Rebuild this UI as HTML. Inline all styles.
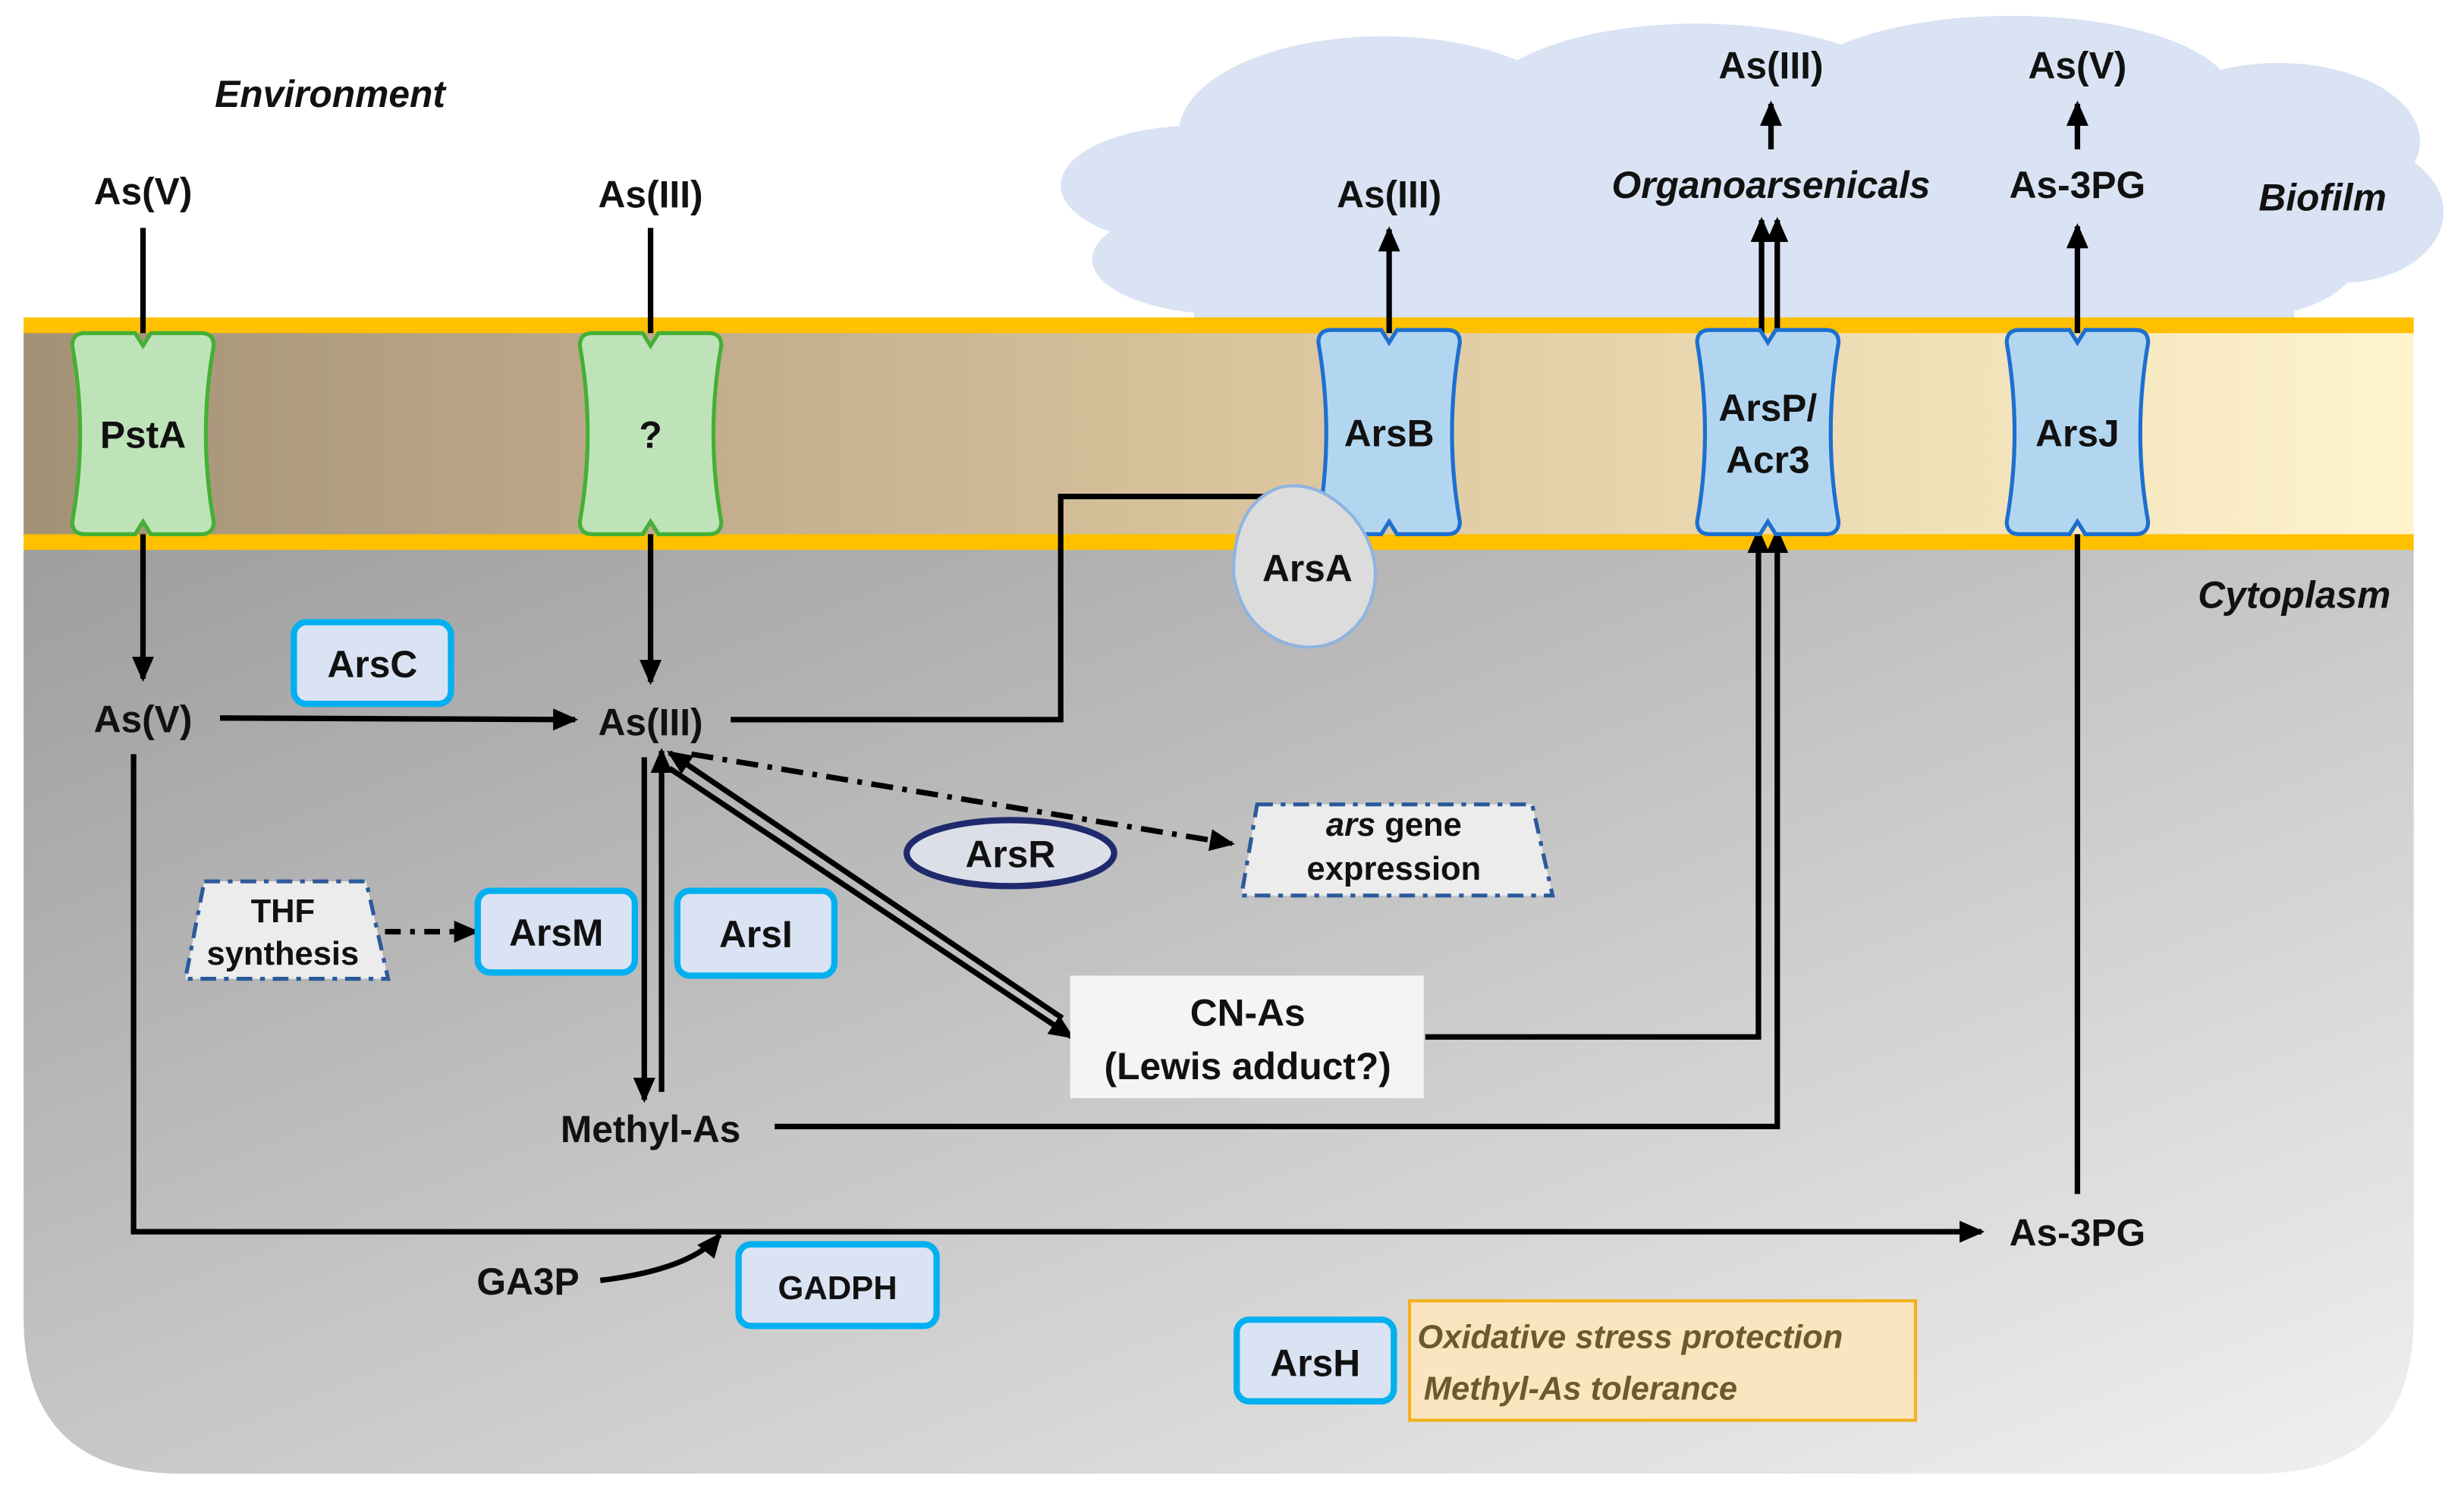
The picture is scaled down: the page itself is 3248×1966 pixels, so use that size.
<!DOCTYPE html>
<html><head><meta charset="utf-8"><style>
html,body{margin:0;padding:0;background:#fff;}
svg{display:block;}
text{font-family:"Liberation Sans",sans-serif;font-weight:bold;fill:#111;}
</style></head><body>
<svg width="3248" height="1966" viewBox="0 0 1568 949" xmlns="http://www.w3.org/2000/svg">
<defs>
<linearGradient id="mem" x1="0" x2="1" y1="0" y2="0"><stop offset="0" stop-color="#a39177"/><stop offset="0.5" stop-color="#d9c39c"/><stop offset="1" stop-color="#fff4cc"/></linearGradient>
<linearGradient id="cyt" x1="0" y1="0" x2="1" y2="1"><stop offset="0" stop-color="#9e9e9e"/><stop offset="1" stop-color="#f0f0f0"/></linearGradient>
<marker id="ar" markerWidth="10" markerHeight="10" refX="8" refY="5" orient="auto" markerUnits="userSpaceOnUse" viewBox="0 0 10 10"><path d="M0,0 L10,5 L0,10 z" fill="#000"/></marker>
<marker id="ar2" markerWidth="16" markerHeight="14" refX="14" refY="7" orient="auto" markerUnits="userSpaceOnUse" viewBox="0 0 16 14"><path d="M0,0 L16,7 L0,14 z" fill="#000"/></marker>
</defs>
<!-- cloud -->
<g fill="#d9e3f3">
<ellipse cx="760" cy="118" rx="85" ry="38"/>
<ellipse cx="780" cy="165" rx="85" ry="35"/>
<ellipse cx="880" cy="85" rx="130" ry="62"/>
<ellipse cx="1080" cy="70" rx="140" ry="55"/>
<ellipse cx="1280" cy="60" rx="140" ry="50"/>
<ellipse cx="1450" cy="90" rx="90" ry="50"/>
<ellipse cx="1490" cy="135" rx="65" ry="45"/>
<ellipse cx="1420" cy="165" rx="80" ry="38"/>
<rect x="760" y="80" width="700" height="125"/>
</g>
<!-- cytoplasm -->
<path d="M15,349 L1536,349 L1536,838 Q1536,938 1436,938 L115,938 Q15,938 15,838 Z" fill="url(#cyt)"/>
<!-- membrane -->
<rect x="15" y="210" width="1521" height="132" fill="url(#mem)"/>
<rect x="15" y="202" width="1521" height="10" fill="#ffc000"/>
<rect x="15" y="340" width="1521" height="10" fill="#ffc000"/>

<g stroke="#000" stroke-width="3.5" fill="none">
<line x1="91" y1="145" x2="91" y2="212"/>
<line x1="91" y1="340" x2="91" y2="432" marker-end="url(#ar2)"/>
<line x1="414" y1="145" x2="414" y2="212"/>
<line x1="414" y1="340" x2="414" y2="434" marker-end="url(#ar2)"/>
<line x1="140" y1="457" x2="366" y2="458" marker-end="url(#ar2)"/>
<polyline points="465,458 675,458 675,316 842,316"/>
<line x1="884" y1="212" x2="884" y2="146" marker-end="url(#ar2)"/>
<line x1="1121" y1="212" x2="1121" y2="140" marker-end="url(#ar2)"/>
<line x1="1131" y1="212" x2="1131" y2="140" marker-end="url(#ar2)"/>
<line x1="1127" y1="95" x2="1127" y2="66" marker-end="url(#ar2)"/>
<line x1="1322" y1="212" x2="1322" y2="144" marker-end="url(#ar2)"/>
<line x1="1322" y1="95" x2="1322" y2="66" marker-end="url(#ar2)"/>
<line x1="1322" y1="760" x2="1322" y2="340"/>
<polyline points="907,660 1119,660 1119,338" marker-end="url(#ar2)"/>
<polyline points="493,717 1131,717 1131,338" marker-end="url(#ar2)"/>
<line x1="410" y1="482" x2="410" y2="700" marker-end="url(#ar2)"/>
<line x1="421" y1="695" x2="421" y2="478" marker-end="url(#ar2)"/>
<line x1="426" y1="489" x2="682" y2="660" marker-end="url(#ar2)"/>
<line x1="676" y1="648" x2="426" y2="479" marker-end="url(#ar2)"/>
<line x1="440" y1="480" x2="784" y2="537" stroke-dasharray="14,6,3,6" marker-end="url(#ar2)"/>
<line x1="245" y1="593" x2="303" y2="593" stroke-dasharray="10,6,3,6" marker-end="url(#ar2)"/>
<polyline points="85,480 85,784 1261,784" marker-end="url(#ar2)"/>
<path d="M382,815 Q440,808 458,786" marker-end="url(#ar2)"/>
</g>

<!-- transporters -->
<g stroke-width="2.5">
<path d="M54,212 L86,212 L91,220 L96,212 L128,212 Q136,212 136,220 Q126,276 136,332 Q136,340 128,340 L96,340 L91,332 L86,340 L54,340 Q46,340 46,332 Q56,276 46,220 Q46,212 54,212 Z" fill="#bfe3b9" stroke="#44b035"/>
<path d="M377,212 L409,212 L414,220 L419,212 L451,212 Q459,212 459,220 Q449,276 459,332 Q459,340 451,340 L419,340 L414,332 L409,340 L377,340 Q369,340 369,332 Q379,276 369,220 Q369,212 377,212 Z" fill="#bfe3b9" stroke="#44b035"/>
<path d="M847,210 L879,210 L884,218 L889,210 L921,210 Q929,210 929,218 Q919,276 929,332 Q929,340 921,340 L889,340 L884,332 L879,340 L847,340 Q839,340 839,332 Q849,276 839,218 Q839,210 847,210 Z" fill="#b3d6f0" stroke="#1d6fd0"/>
<path d="M1088,210 L1120,210 L1125,218 L1130,210 L1162,210 Q1170,210 1170,218 Q1160,276 1170,332 Q1170,340 1162,340 L1130,340 L1125,332 L1120,340 L1088,340 Q1080,340 1080,332 Q1090,276 1080,218 Q1080,210 1088,210 Z" fill="#b3d6f0" stroke="#1d6fd0"/>
<path d="M1285,210 L1317,210 L1322,218 L1327,210 L1359,210 Q1367,210 1367,218 Q1357,276 1367,332 Q1367,340 1359,340 L1327,340 L1322,332 L1317,340 L1285,340 Q1277,340 1277,332 Q1287,276 1277,218 Q1277,210 1285,210 Z" fill="#b3d6f0" stroke="#1d6fd0"/>
</g>
<path d="M815,310 Q840,305 862,330 Q885,360 868,392 Q850,418 820,410 Q790,400 785,365 Q785,320 815,310 Z" fill="#dcdcdc" stroke="#8fb4e0" stroke-width="2"/>

<!-- boxes -->
<g fill="#dae3f3" stroke="#00b0f0" stroke-width="4">
<rect x="187" y="396" width="100" height="52" rx="8"/>
<rect x="304" y="567" width="100" height="52" rx="8"/>
<rect x="431" y="567" width="100" height="54" rx="8"/>
<rect x="470" y="792" width="126" height="52" rx="8"/>
<rect x="787" y="840" width="100" height="52" rx="8"/>
</g>
<rect x="897" y="828" width="322" height="76" fill="#fbe5c0" stroke="#f2b21c" stroke-width="2"/>
<ellipse cx="643" cy="543" rx="66" ry="21" fill="#dcdfe7" stroke="#1f2a6e" stroke-width="4"/>
<polygon points="130,561 233,561 247,623 118,623" fill="#ececec" stroke="#2b5a9c" stroke-width="2.5" stroke-dasharray="10,5,3,5"/>
<polygon points="800,512 975,512 988,570 790,570" fill="#ececec" stroke="#2b5a9c" stroke-width="2.5" stroke-dasharray="10,5,3,5"/>
<rect x="681" y="621" width="225" height="78" fill="#f4f4f4"/>

<!-- text -->
<g font-size="24" text-anchor="middle">
<text x="210" y="68" font-style="italic">Environment</text>
<text x="91" y="130">As(V)</text>
<text x="414" y="132">As(III)</text>
<text x="884" y="132">As(III)</text>
<text x="1127" y="50">As(III)</text>
<text x="1322" y="50">As(V)</text>
<text x="1127" y="126" font-style="italic">Organoarsenicals</text>
<text x="1322" y="126">As-3PG</text>
<text x="1478" y="134" font-style="italic">Biofilm</text>
<text x="91" y="285">PstA</text>
<text x="414" y="285">?</text>
<text x="884" y="284">ArsB</text>
<text x="1125" y="268">ArsP/</text>
<text x="1125" y="301">Acr3</text>
<text x="1322" y="284">ArsJ</text>
<text x="832" y="370">ArsA</text>
<text x="1460" y="387" font-style="italic">Cytoplasm</text>
<text x="237" y="431">ArsC</text>
<text x="91" y="466">As(V)</text>
<text x="414" y="468">As(III)</text>
<text x="643" y="552">ArsR</text>
<text x="354" y="602">ArsM</text>
<text x="481" y="603">ArsI</text>
<text x="794" y="653">CN-As</text>
<text x="794" y="687">(Lewis adduct?)</text>
<text x="414" y="727">Methyl-As</text>
<text x="1322" y="793">As-3PG</text>
<text x="336" y="824">GA3P</text>
<text x="837" y="876">ArsH</text>
</g>
<g font-size="21" text-anchor="middle">
<text x="180" y="587">THF</text>
<text x="180" y="614">synthesis</text>
<text x="887" y="532"><tspan font-style="italic">ars</tspan> gene</text>
<text x="887" y="560">expression</text>
<text x="533" y="827">GADPH</text>
</g>
<g font-size="21" font-style="italic" fill="#6b5a2e">
<text x="902" y="858" style="fill:#6b5a2e">Oxidative stress protection</text>
<text x="906" y="891" style="fill:#6b5a2e">Methyl-As tolerance</text>
</g>
</svg>
</body></html>
